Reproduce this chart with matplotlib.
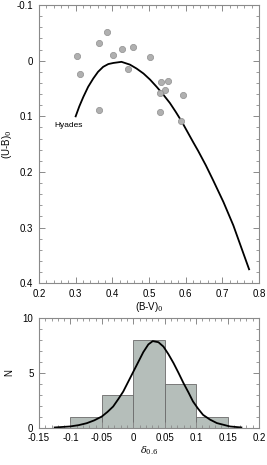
import numpy as np
import matplotlib.pyplot as plt
from matplotlib.ticker import MultipleLocator

# stars, (B-V)0 vs (U-B)0
bv_stars = [0.305, 0.313, 0.365, 0.386, 0.363, 0.403, 0.426, 0.456, 0.443,
            0.503, 0.533, 0.552, 0.545, 0.531, 0.593, 0.531, 0.587]
ub_stars = [-0.009, 0.024, -0.032, -0.052, 0.088, -0.010, -0.021, -0.025, 0.015,
            -0.007, 0.038, 0.037, 0.053, 0.058, 0.062, 0.092, 0.108]

# Hyades sequence
bv_hyades = [0.300, 0.310, 0.321, 0.334, 0.348, 0.361, 0.375, 0.389, 0.403,
             0.425, 0.448, 0.466, 0.485, 0.503, 0.521, 0.539, 0.557, 0.573,
             0.589, 0.605, 0.621, 0.634, 0.655, 0.675, 0.703, 0.730, 0.773]
ub_hyades = [0.100, 0.082, 0.065, 0.047, 0.032, 0.020, 0.011, 0.006, 0.004,
             0.002, 0.007, 0.014, 0.023, 0.034, 0.047, 0.061, 0.076, 0.092,
             0.109, 0.128, 0.147, 0.162, 0.188, 0.215, 0.254, 0.296, 0.375]

# histogram of delta_0.6
bin_edges = [-0.1, -0.05, 0.0, 0.05, 0.1, 0.15]
counts = [1, 3, 8, 4, 1]

# fitted gaussian
fit_x = [-0.125, -0.101, -0.087, -0.074, -0.062, -0.050, -0.041, -0.032, -0.024,
         -0.016, -0.008, 0.000, 0.008, 0.016, 0.024, 0.031, 0.040, 0.048,
         0.056, 0.064, 0.072, 0.080, 0.088, 0.095, 0.103, 0.111, 0.122,
         0.133, 0.154, 0.172]
fit_y = [0.03, 0.12, 0.24, 0.42, 0.68, 1.03, 1.45, 1.94, 2.6,
         3.3, 4.2, 5.1, 6.0, 6.9, 7.6, 7.9, 7.8, 7.4,
         6.7, 5.9, 5.0, 4.06, 3.2, 2.4, 1.75, 1.18, 0.75,
         0.43, 0.12, 0.03]

plt.rcParams["font.family"] = ["Liberation Sans", "DejaVu Sans"]
plt.rcParams["font.size"] = 7
plt.rcParams["mathtext.fontset"] = "dejavuserif"

spine_c = "#8a8a8a"

def style_ax(ax):
    for s in ax.spines.values():
        s.set_color(spine_c)
        s.set_linewidth(0.8)
    ax.tick_params(which="both", direction="in", top=True, right=True,
                   color=spine_c, labelsize=7)
    ax.tick_params(axis="x", pad=4)
    ax.tick_params(axis="y", pad=4)
    ax.tick_params(which="major", length=4, width=0.7)
    ax.tick_params(which="minor", length=2, width=0.6)

fig = plt.figure(figsize=(2.67, 4.65), dpi=100)
ax1 = fig.add_axes([0.146, 0.391, 0.824, 0.598])
ax2 = fig.add_axes([0.146, 0.080, 0.824, 0.236])

ax1.plot(bv_hyades, ub_hyades, "-", color="black", linewidth=1.3)
ax1.plot(bv_stars, ub_stars, "o", markersize=4.5, markerfacecolor="#b0b0b0",
         markeredgecolor="#909090", markeredgewidth=0.5, linestyle="none")
ax1.text(0.242, 0.117, "Hyades", fontsize=6, va="center", ha="left")
ax1.set_xlim(0.2, 0.8)
ax1.set_ylim(0.4, -0.1)
ax1.xaxis.set_minor_locator(MultipleLocator(0.02))
ax1.yaxis.set_minor_locator(MultipleLocator(0.02))
ax1.set_yticks([-0.1, 0, 0.1, 0.2, 0.3, 0.4])
ax1.set_yticklabels(["-0.1", "0", "0.1", "0.2", "0.3", "0.4"])
ax1.set_xticks([0.2, 0.3, 0.4, 0.5, 0.6, 0.7, 0.8])
ax1.set_xticklabels(["0.2", "0.3", "0.4", "0.5", "0.6", "0.7", "0.8"])
ax1.set_xlabel(r"(B-V)$_0$", fontsize=7, labelpad=1)
ax1.set_ylabel(r"(U-B)$_0$", fontsize=7, labelpad=2)
style_ax(ax1)

ax2.bar(bin_edges[:-1], counts, width=np.diff(bin_edges), align="edge",
        color="#b5beba", edgecolor="#6a6a6a", linewidth=0.6)
ax2.plot(fit_x, fit_y, "-", color="black", linewidth=1.3)
ax2.set_xlim(-0.15, 0.2)
ax2.set_ylim(0, 10)
ax2.xaxis.set_minor_locator(MultipleLocator(0.01))
ax2.yaxis.set_minor_locator(MultipleLocator(1))
ax2.set_yticks([0, 5, 10])
ax2.set_xticks([-0.15, -0.1, -0.05, 0, 0.05, 0.1, 0.15, 0.2])
ax2.set_xticklabels(["-0.15", "-0.1", "-0.05", "0", "0.05", "0.1", "0.15", "0.2"])
ax2.set_xlabel(r"$\delta_{0.6}$", fontsize=7, labelpad=1)
ax2.set_ylabel("N", fontsize=7, labelpad=6)
style_ax(ax2)

plt.savefig("out.png", dpi=100)
plt.close()
